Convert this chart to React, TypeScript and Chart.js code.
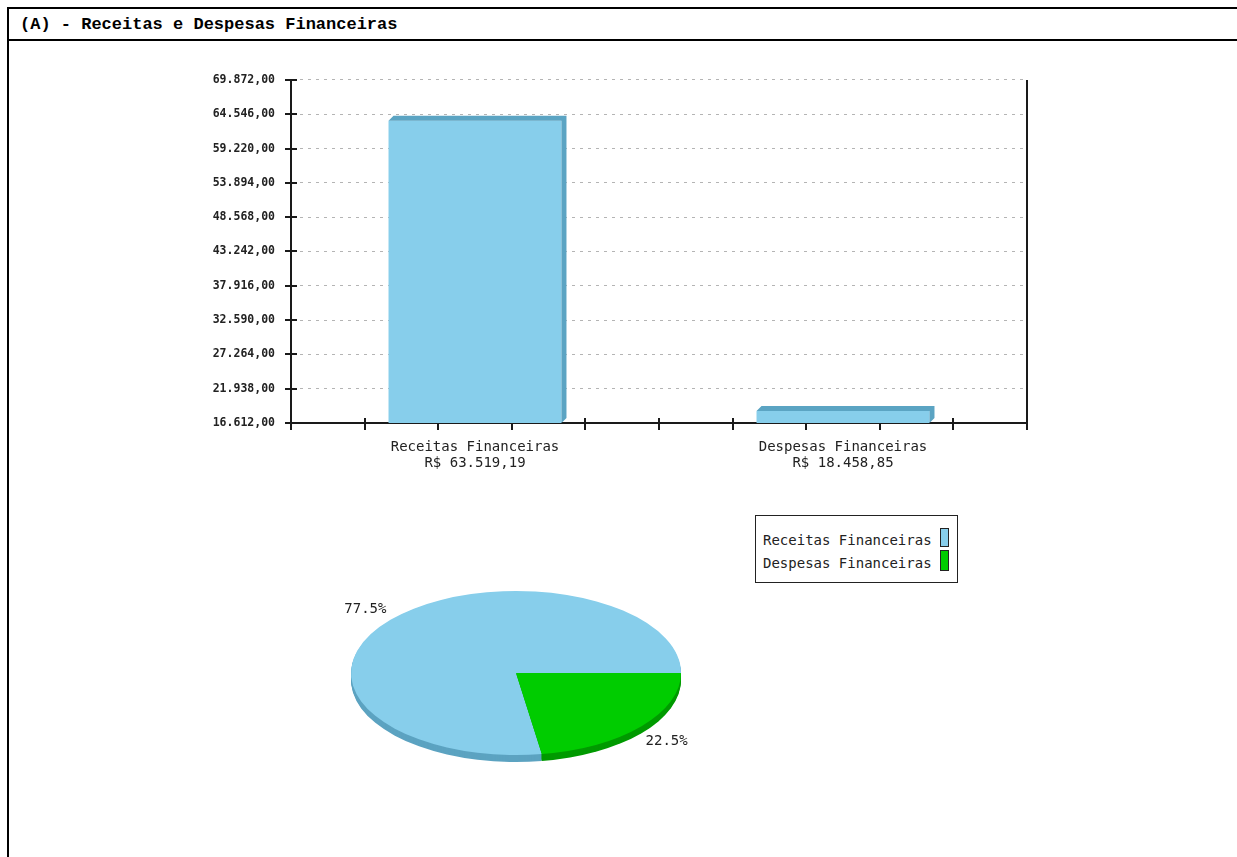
import React, { useEffect, useRef } from "react";
import { Chart, registerables } from "chart.js";

Chart.register(...registerables);

const TITLE = "(A) - Receitas e Despesas Financeiras";
const categories = ["Receitas Financeiras", "Despesas Financeiras"];
const values = [63519.19, 18458.85];
const yMin = 16612;
const yMax = 69872;
const yStep = 5326;
const sliceColors = ["#87CEEB", "#00CC00"];
const sliceSideColors = ["#5CA3C1", "#009A00"];
const barColor = "#87CEEB";
const barSideColor = "#5BA4C3";

const MONO = "'DejaVu Sans Mono', 'Liberation Mono', monospace";

function fmtBR(v: number, dec: number): string {
  const fixed = v.toFixed(dec);
  const parts = fixed.split(".");
  const intF = parts[0].replace(/\B(?=(\d{3})+(?!\d))/g, ".");
  return parts[1] ? intF + "," + parts[1] : intF;
}

const barDecor = {
  id: "barDecor",
  beforeDatasetsDraw(chart: any) {
    const { ctx, chartArea } = chart;
    const { left, right, top, bottom } = chartArea;
    ctx.save();
    ctx.strokeStyle = "#1a1a1a";
    ctx.lineWidth = 2;
    const ys = chart.scales.y;
    ys.ticks.forEach((t: any) => {
      const py = Math.round(ys.getPixelForValue(t.value));
      ctx.beginPath();
      ctx.moveTo(left - 6, py);
      ctx.lineTo(left + 6, py);
      ctx.stroke();
    });
    for (let i = 0; i <= 10; i++) {
      const px = Math.round(left + ((right - left) * i) / 10);
      ctx.beginPath();
      ctx.moveTo(px, i === 0 || i === 10 ? bottom : bottom - 5);
      ctx.lineTo(px, bottom + 7);
      ctx.stroke();
    }
    ctx.beginPath();
    ctx.moveTo(Math.round(right), top);
    ctx.lineTo(Math.round(right), bottom + 7);
    ctx.stroke();
    ctx.restore();
  },
  afterDatasetsDraw(chart: any) {
    const { ctx, chartArea } = chart;
    const meta = chart.getDatasetMeta(0);
    const d = 5;
    ctx.save();
    ctx.fillStyle = barSideColor;
    meta.data.forEach((bar: any) => {
      const l = bar.x - bar.width / 2;
      const r = bar.x + bar.width / 2;
      const t = bar.y;
      const b = Math.min(bar.base, chartArea.bottom);
      ctx.beginPath();
      ctx.moveTo(l, t);
      ctx.lineTo(l + d, t - d);
      ctx.lineTo(r + d, t - d);
      ctx.lineTo(r + d, b - d);
      ctx.lineTo(r, b);
      ctx.lineTo(r, t);
      ctx.closePath();
      ctx.fill();
    });
    ctx.restore();
  },
};

const RATIO = 82 / 165;
const DEPTH = 7;

const pieDecor = {
  id: "pieDecor",
  beforeDatasetsDraw(chart: any) {
    const { ctx } = chart;
    const arcs = chart.getDatasetMeta(0).data as any[];
    const cx = arcs[0].x;
    const cy = arcs[0].y;
    for (let k = DEPTH; k >= 1; k--) {
      ctx.save();
      ctx.translate(cx, cy + k);
      ctx.scale(1, RATIO);
      ctx.translate(-cx, -cy);
      arcs.forEach((a: any, i: number) => {
        ctx.beginPath();
        ctx.moveTo(a.x, a.y);
        ctx.arc(a.x, a.y, a.outerRadius, a.startAngle, a.endAngle);
        ctx.closePath();
        ctx.fillStyle = sliceSideColors[i];
        ctx.fill();
      });
      ctx.restore();
    }
    ctx.save();
    ctx.translate(cx, cy);
    ctx.scale(1, RATIO);
    ctx.translate(-cx, -cy);
  },
  afterDatasetsDraw(chart: any) {
    chart.ctx.restore();
  },
  afterDraw(chart: any) {
    const { ctx } = chart;
    const arcs = chart.getDatasetMeta(0).data as any[];
    const total = values.reduce((s, v) => s + v, 0);
    ctx.save();
    ctx.font = "14px " + MONO;
    ctx.fillStyle = "#222";
    ctx.textAlign = "center";
    ctx.textBaseline = "middle";
    arcs.forEach((a: any, i: number) => {
      const mid = (a.startAngle + a.endAngle) / 2;
      const s = Math.sin(mid);
      const lx = a.x + Math.cos(mid) * a.outerRadius * 1.2;
      const ly = a.y + s * a.outerRadius * RATIO * 1.2 + (s > 0 ? 4 : 0);
      ctx.fillText(((values[i] / total) * 100).toFixed(1) + "%", lx, ly);
    });
    ctx.restore();
  },
};

function BarChart() {
  const ref = useRef<HTMLCanvasElement>(null);
  useEffect(() => {
    if (!ref.current) return;
    const chart = new Chart(ref.current, {
      type: "bar",
      data: {
        labels: categories,
        datasets: [
          {
            data: values,
            backgroundColor: barColor,
            borderWidth: 0,
            barPercentage: 0.47,
            categoryPercentage: 1,
          },
        ],
      },
      options: {
        animation: false,
        responsive: false,
        maintainAspectRatio: false,
        devicePixelRatio: 1,
        layout: { padding: { left: 0, right: 10, top: 16, bottom: 0 } },
        plugins: { legend: { display: false }, tooltip: { enabled: false } },
        scales: {
          x: {
            type: "category",
            offset: true,
            grid: { display: false, drawTicks: false },
            border: { display: true, color: "#1a1a1a", width: 2 },
            ticks: {
              padding: 17,
              color: "#222",
              font: { family: MONO, size: 14, lineHeight: 1.12 },
              maxRotation: 0,
              autoSkip: false,
              callback: (_v: any, i: number) => [categories[i], "R$ " + fmtBR(values[i], 2)],
            },
            afterFit: (s: any) => {
              s.height = 64;
            },
          },
          y: {
            type: "linear",
            min: yMin,
            max: yMax,
            grid: {
              drawTicks: false,
              color: (c: any) => (c.index === 0 ? "rgba(0,0,0,0)" : "#b4b4b4"),
              lineWidth: 1,
            },
            border: { display: true, color: "#1a1a1a", width: 2, dash: [3, 5] },
            ticks: {
              stepSize: yStep,
              padding: 16,
              color: "#222",
              font: { family: MONO, size: 11.5, weight: "bold" },
              callback: (v: any) => fmtBR(Number(v), 2),
            },
            afterFit: (s: any) => {
              s.width = 141;
            },
          },
        },
      },
      plugins: [barDecor],
    } as any);
    return () => chart.destroy();
  }, []);
  return (
    <canvas
      ref={ref}
      width={887}
      height={430}
      style={{ position: "absolute", left: 150, top: 57, width: 887, height: 430 }}
    />
  );
}

function PieChart() {
  const ref = useRef<HTMLCanvasElement>(null);
  useEffect(() => {
    if (!ref.current) return;
    const chart = new Chart(ref.current, {
      type: "pie",
      data: {
        labels: categories,
        datasets: [{ data: values, backgroundColor: sliceColors, borderWidth: 0 }],
      },
      options: {
        animation: false,
        responsive: false,
        maintainAspectRatio: false,
        devicePixelRatio: 1,
        rotation: 171,
        layout: { padding: { left: 25, right: 25, top: 5, bottom: 5 } },
        plugins: { legend: { display: false }, tooltip: { enabled: false } },
      },
      plugins: [pieDecor],
    } as any);
    return () => chart.destroy();
  }, []);
  return (
    <canvas
      ref={ref}
      width={380}
      height={340}
      style={{ position: "absolute", left: 326, top: 503, width: 380, height: 340 }}
    />
  );
}

export default function App() {
  const swatchTops = [528, 550];
  const swatchHeights = [19, 21];
  const textTops = [532, 555];
  return (
    <div style={{ position: "absolute", left: 0, top: 0, width: 1237, height: 857, overflow: "hidden", background: "#fff" }}>
      <div
        style={{
          position: "absolute",
          left: 7,
          top: 7,
          width: 1240,
          height: 860,
          borderLeft: "2px solid #000",
          borderTop: "2px solid #000",
        }}
      >
        <div
          style={{
            height: 30,
            borderBottom: "2px solid #000",
            paddingLeft: 11,
            lineHeight: "32px",
            fontFamily: "'Liberation Mono', 'Courier New', monospace",
            fontWeight: "bold",
            fontSize: 17,
            color: "#000",
            whiteSpace: "nowrap",
          }}
        >
          {TITLE}
        </div>
      </div>
      <BarChart />
      <PieChart />
      <div
        style={{
          position: "absolute",
          left: 755,
          top: 515,
          width: 203,
          height: 68,
          boxSizing: "border-box",
          border: "1px solid #222",
          background: "#fff",
        }}
      />
      {categories.map((c, i) => (
        <React.Fragment key={c}>
          <div
            style={{
              position: "absolute",
              left: 763,
              top: textTops[i],
              height: 16,
              lineHeight: "16px",
              fontFamily: MONO,
              fontSize: 14,
              color: "#222",
              whiteSpace: "nowrap",
            }}
          >
            {c}
          </div>
          <div
            style={{
              position: "absolute",
              left: 940,
              top: swatchTops[i],
              width: 9,
              height: swatchHeights[i],
              boxSizing: "border-box",
              border: "1px solid #222",
              background: sliceColors[i],
            }}
          />
        </React.Fragment>
      ))}
    </div>
  );
}
